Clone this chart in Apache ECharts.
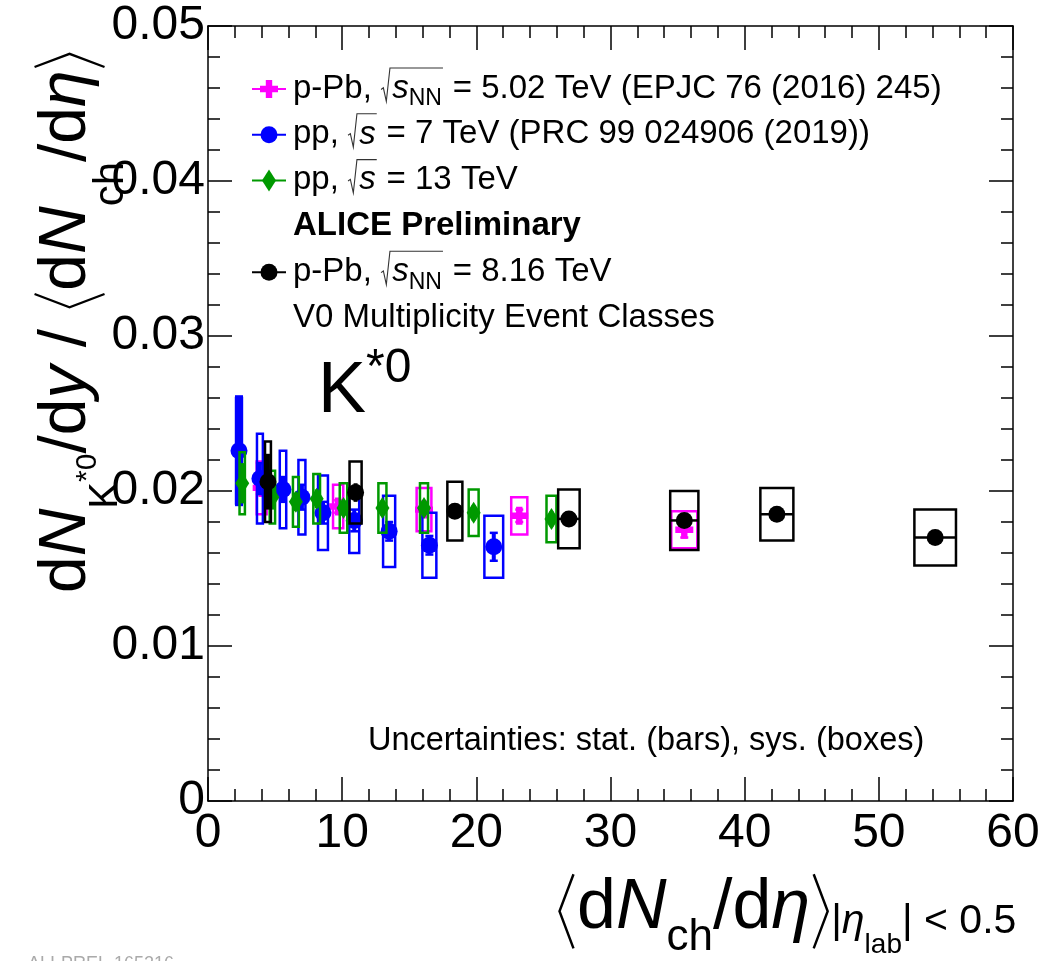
<!DOCTYPE html>
<html>
<head>
<meta charset="utf-8">
<script src="https://cdn.jsdelivr.net/npm/echarts@6/dist/echarts.min.js"></script>
<style>
  html, body { margin: 0; padding: 0; background: #fff; }
  #chart { width: 1044px; height: 961px; }
</style>
</head>
<body>
<div id="chart"></div>
<script>
// axis ticks
const xTickValues = [0, 10, 20, 30, 40, 50, 60];
const xTickLabels = ['0', '10', '20', '30', '40', '50', '60'];
const yTickValues = [0, 0.01, 0.02, 0.03, 0.04, 0.05];
const yTickLabels = ['0', '0.01', '0.02', '0.03', '0.04', '0.05'];

// p-Pb 5.02 TeV
const pPb502X = [4.0, 9.7, 16.1, 23.2, 35.5];
const pPb502Y = [0.0202, 0.0190, 0.0188, 0.0184, 0.0175];
const pPb502Stat = [0.0004, 0.0004, 0.0004, 0.0004, 0.0005];
const pPb502Sys = [0.0017, 0.0014, 0.0014, 0.0012, 0.0012];
const pPb502XErr = [0.37, 0.38, 0.55, 0.6, 0.97];

// pp 7 TeV
const pp7X = [2.31, 3.87, 5.59, 7.0, 8.57, 10.9, 13.5, 16.5, 21.3];
const pp7Y = [0.0226, 0.0208, 0.0201, 0.0196, 0.0186, 0.0181, 0.0174, 0.0165, 0.0164];
const pp7Stat = [0.0035, 0.0010, 0.0008, 0.0008, 0.0007, 0.0007, 0.0006, 0.0006, 0.0009];
const pp7Sys = [0.0034, 0.0029, 0.0025, 0.0024, 0.0024, 0.0021, 0.0023, 0.0021, 0.0020];
const pp7XErr = [0.22, 0.22, 0.24, 0.26, 0.37, 0.37, 0.45, 0.52, 0.7];

// pp 13 TeV
const pp13X = [2.55, 4.8, 6.55, 8.1, 10.1, 13.0, 16.1, 19.8, 25.6];
const pp13Y = [0.0205, 0.0196, 0.0193, 0.0195, 0.0189, 0.0189, 0.0189, 0.0186, 0.0182];
const pp13Stat = [0.0013, 0.0008, 0.0006, 0.0006, 0.0005, 0.0005, 0.0005, 0.0005, 0.0005];
const pp13Sys = [0.0020, 0.0017, 0.0016, 0.0016, 0.0016, 0.0016, 0.0016, 0.0015, 0.0015];
const pp13XErr = [0.2, 0.2, 0.22, 0.25, 0.28, 0.3, 0.3, 0.37, 0.37];

// p-Pb 8.16 TeV
const pPb816X = [4.47, 11.0, 18.4, 26.9, 35.5, 42.4, 54.2];
const pPb816Y = [0.0206, 0.0199, 0.0187, 0.0182, 0.0181, 0.0185, 0.0170];
const pPb816Stat = [0.0018, 0.0006, 0.0003, 0.0002, 0.0002, 0.0002, 0.0002];
const pPb816Sys = [0.0026, 0.0020, 0.0019, 0.0019, 0.0019, 0.0017, 0.0018];
const pPb816XErr = [0.22, 0.45, 0.56, 0.8, 1.05, 1.23, 1.55];

const MAGENTA = '#ff00ff', BLUE = '#0000ff', GREEN = '#009900', BLACK = '#000000';
const FAM = '"Liberation Sans", Arial, Helvetica, sans-serif';

// --- little text layout helper (sub/superscripts, brackets, sqrt) ---
const mctx = document.createElement('canvas').getContext('2d');
function fontOf(s) { return (s.it ? 'italic ' : '') + (s.b ? 'bold ' : '') + s.fs + 'px ' + FAM; }
function textW(s) { mctx.font = fontOf(s); return mctx.measureText(s.t).width; }

function label(segs, x0, y0, rot, base) {
  let x = 0, sq = null;
  const kids = [];
  segs.forEach(s0 => {
    const s = Object.assign({ fs: base }, s0);
    const f = s.fs;
    if (s.sqrt) { sq = { x, f }; x += 0.34 * f; return; }
    if (s.sqrtEnd) {
      const g = sq.f, a = sq.x;
      kids.push({ type: 'polyline', shape: { points: [[a, -0.32 * g], [a + 0.07 * g, -0.37 * g], [a + 0.16 * g, 0.04 * g], [a + 0.27 * g, -0.97 * g], [x + 0.03 * g, -0.97 * g]] },
        style: { stroke: '#333', lineWidth: 1.1, fill: null } });
      x += 0.05 * g; return;
    }
    if (s.br) {
      const w = 0.2 * f, top = -0.84 * f, bot = 0.22 * f, mid = (top + bot) / 2, p = 0.05 * f;
      const pts = s.br === '<' ? [[x + p + w, top], [x + p, mid], [x + p + w, bot]] : [[x + p, top], [x + p + w, mid], [x + p, bot]];
      kids.push({ type: 'polyline', shape: { points: pts }, style: { stroke: '#000', lineWidth: 0.035 * f, fill: null } });
      x += w + 2 * p; return;
    }
    kids.push({ type: 'text', x, y: (s.dy || 0) - 0.3465 * f,
      style: { text: s.t, font: fontOf(s), fill: '#000', align: 'left', verticalAlign: 'middle' } });
    x += textW(s);
  });
  return { type: 'group', x: x0, y: y0, rotation: rot || 0, children: kids };
}

// markers
function marker(kind, cx, cy, color) {
  if (kind === 'circle') return { type: 'circle', shape: { cx, cy, r: 8.5 }, style: { fill: color } };
  if (kind === 'diamond') return { type: 'polygon', shape: { points: [[cx, cy - 11], [cx + 7, cy], [cx, cy + 11], [cx - 7, cy]] }, style: { fill: color } };
  const a = 9, t = 3.2;
  const p = [[-t, -a], [t, -a], [t, -t], [a, -t], [a, t], [t, t], [t, a], [-t, a], [-t, t], [-a, t], [-a, -t], [-t, -t]];
  return { type: 'polygon', shape: { points: p.map(q => [cx + q[0], cy + q[1]]) }, style: { fill: color } };
}

function makeSeries(name, xs, ys, stat, sys, xerr, color, kind, caps, hline) {
  return {
    type: 'custom',
    name,
    data: xs.map((x, i) => [x, ys[i], stat[i], sys[i], xerr[i]]),
    encode: { x: 0, y: 1 },
    renderItem: (params, api) => {
      const x = api.value(0), y = api.value(1), st = api.value(2), sy = api.value(3), xe = api.value(4);
      const c = api.coord([x, y]);
      const tl = api.coord([x - xe, y + sy]);
      const br = api.coord([x + xe, y - sy]);
      const top = api.coord([x, y + st]);
      const bot = api.coord([x, y - st]);
      const kids = [
        { type: 'rect', shape: { x: tl[0], y: tl[1], width: br[0] - tl[0], height: br[1] - tl[1] },
          style: { fill: null, stroke: color, lineWidth: 2.5 } },
        { type: 'line', shape: { x1: c[0], y1: top[1], x2: c[0], y2: bot[1] }, style: { stroke: color, lineWidth: 4 } }
      ];
      if (caps) {
        kids.push({ type: 'line', shape: { x1: c[0] - 4, y1: top[1], x2: c[0] + 4, y2: top[1] }, style: { stroke: color, lineWidth: 2.5 } });
        kids.push({ type: 'line', shape: { x1: c[0] - 4, y1: bot[1], x2: c[0] + 4, y2: bot[1] }, style: { stroke: color, lineWidth: 2.5 } });
      }
      if (hline) {
        kids.push({ type: 'line', shape: { x1: tl[0], y1: c[1], x2: br[0], y2: c[1] }, style: { stroke: color, lineWidth: 2.5 } });
      }
      kids.push(marker(kind, c[0], c[1], color));
      return { type: 'group', children: kids };
    }
  };
}

// legend rows
const legendRows = [
  { color: MAGENTA, kind: 'cross', segs: [{ t: 'p-Pb, ' }, { sqrt: 1 }, { t: 's', it: 1 }, { t: 'NN', fs: 23, dy: 7 }, { sqrtEnd: 1 }, { t: ' = 5.02 TeV (EPJC 76 (2016) 245)' }] },
  { color: BLUE, kind: 'circle', segs: [{ t: 'pp, ' }, { sqrt: 1 }, { t: 's', it: 1 }, { sqrtEnd: 1 }, { t: ' = 7 TeV (PRC 99 024906 (2019))' }] },
  { color: GREEN, kind: 'diamond', segs: [{ t: 'pp, ' }, { sqrt: 1 }, { t: 's', it: 1 }, { sqrtEnd: 1 }, { t: ' = 13 TeV' }] },
  { segs: [{ t: 'ALICE Preliminary', b: 1 }] },
  { color: BLACK, kind: 'circle', segs: [{ t: 'p-Pb, ' }, { sqrt: 1 }, { t: 's', it: 1 }, { t: 'NN', fs: 23, dy: 7 }, { sqrtEnd: 1 }, { t: ' = 8.16 TeV' }] },
  { segs: [{ t: 'V0 Multiplicity Event Classes' }] }
];

const graphics = [];
legendRows.forEach((row, i) => {
  const base = 100 + i * 45.8;
  const cy = base - 11;
  if (row.kind) {
    graphics.push({ type: 'line', shape: { x1: 252, y1: cy, x2: 286, y2: cy }, style: { stroke: row.color, lineWidth: 2 } });
    graphics.push(marker(row.kind, 269, cy, row.color));
  }
  graphics.push(label(row.segs, 293, base, 0, 33));
});

// K*0
graphics.push(label([{ t: 'K' }, { t: '*0', fs: 48, dy: -32 }], 318, 417, 0, 72));
// uncertainties note
graphics.push(label([{ t: 'Uncertainties: stat. (bars), sys. (boxes)' }], 368, 752, 0, 32.5));
// y title
graphics.push(label([
  { t: 'd' }, { t: 'N', it: 1 }, { t: 'K', fs: 40, dy: 30 }, { t: '*0', fs: 30, dy: 8 },
  { t: '/d' }, { t: 'y', it: 1 }, { t: ' / ' }, { br: '<' }, { t: 'd' }, { t: 'N', it: 1 },
  { t: 'ch', fs: 42, dy: 36 }, { t: '/d' }, { t: 'η', it: 1 }, { br: '>' }
], 90, 593, Math.PI / 2, 66));
// x title
graphics.push(label([
  { br: '<' }, { t: 'd' }, { t: 'N', it: 1 }, { t: 'ch', fs: 44, dy: 20 }, { t: '/d' }, { t: 'η', it: 1 }, { br: '>' },
  { t: '|', fs: 41, dy: 3 }, { t: 'η', fs: 41, it: 1, dy: 3 }, { t: 'lab', fs: 28, dy: 22 }, { t: '| < 0.5', fs: 41, dy: 3 }
], 556, 933, 0, 70));
// cut-off figure id
graphics.push({ type: 'text', x: 28, y: 955, style: { text: 'ALI-PREL-165216', font: '18px ' + FAM, fill: '#aaa' } });

function tickLabel(vals, labels) {
  return v => {
    const i = vals.findIndex(t => Math.abs(t - v) < 1e-9);
    return i < 0 ? '' : labels[i];
  };
}

const axisLine = { show: true, onZero: false, lineStyle: { color: '#000', width: 1.5 } };
const xTick = { show: true, inside: true, length: 24, lineStyle: { color: '#000', width: 1.5 } };
const minor = { show: true, splitNumber: 5, length: 12, lineStyle: { color: '#000', width: 1.5 } };

const chart = echarts.init(document.getElementById('chart'));
chart.setOption({
  animation: false,
  backgroundColor: '#fff',
  grid: { left: 208, top: 26, width: 805, height: 775 },
  xAxis: [
    { type: 'value', min: xTickValues[0], max: xTickValues[xTickValues.length - 1], interval: 10, position: 'bottom',
      axisLine, axisTick: xTick, minorTick: minor, splitLine: { show: false },
      axisLabel: { formatter: tickLabel(xTickValues, xTickLabels), fontSize: 48, fontFamily: FAM, color: '#000', margin: 9 } },
    { type: 'value', min: xTickValues[0], max: xTickValues[xTickValues.length - 1], interval: 10, position: 'top',
      axisLine, axisTick: xTick, minorTick: minor, splitLine: { show: false }, axisLabel: { show: false } }
  ],
  yAxis: [
    { type: 'value', min: yTickValues[0], max: yTickValues[yTickValues.length - 1], interval: 0.01, position: 'left',
      axisLine, axisTick: xTick, minorTick: minor, splitLine: { show: false },
      axisLabel: { formatter: tickLabel(yTickValues, yTickLabels), fontSize: 48, fontFamily: FAM, color: '#000', margin: 3 } },
    { type: 'value', min: yTickValues[0], max: yTickValues[yTickValues.length - 1], interval: 0.01, position: 'right',
      axisLine, axisTick: xTick, minorTick: minor, splitLine: { show: false }, axisLabel: { show: false } }
  ],
  series: [
    makeSeries('p-Pb 5.02 TeV', pPb502X, pPb502Y, pPb502Stat, pPb502Sys, pPb502XErr, MAGENTA, 'cross', true, false),
    makeSeries('pp 7 TeV', pp7X, pp7Y, pp7Stat, pp7Sys, pp7XErr, BLUE, 'circle', true, false),
    makeSeries('pp 13 TeV', pp13X, pp13Y, pp13Stat, pp13Sys, pp13XErr, GREEN, 'diamond', false, false),
    makeSeries('p-Pb 8.16 TeV', pPb816X, pPb816Y, pPb816Stat, pPb816Sys, pPb816XErr, BLACK, 'circle', false, true)
  ],
  graphic: graphics
});
</script>
</body>
</html>
